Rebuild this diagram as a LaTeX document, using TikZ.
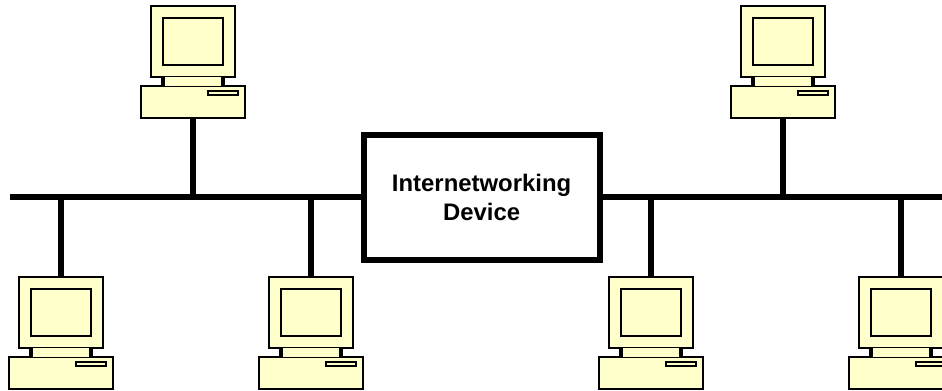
\documentclass[tikz,border=0pt]{standalone}
\usepackage{fontspec}
\setmainfont{Liberation Sans}
\usepackage{xcolor}
\usetikzlibrary{calc,positioning}
\definecolor{paleyellow}{rgb}{1.000000,1.000000,0.800000}
\tikzset{
  unitbox/.style={draw,fill=paleyellow,line width=1.2pt,inner sep=0pt,outer sep=0pt,minimum width=#1},
  wire/.style={line width=3.3pt},
  devicebox/.style={draw,fill=white,line width=3.4pt,inner sep=0pt,outer sep=0pt,minimum width=236*0.02cm,minimum height=125*0.02cm,align=center,font=\bfseries\fontsize{13.6}{16.7}\selectfont}
}
% One computer: monitor, screen, neck, case and drive slot
\newcommand{\drawcomputer}[3]{%
  \node [unitbox=84*0.02cm,minimum height=71*0.02cm] (mon#1) at (#2,#3) {};%
  \node [unitbox=60*0.02cm,minimum height=47*0.02cm] (scr#1) at (mon#1.center) {};%
  \node [unitbox=104*0.02cm,minimum height=32*0.02cm] (case#1) at ($(mon#1.center)+(0,60.5)$) {};%
  \node [unitbox=30*0.02cm,minimum height=4*0.02cm] (slot#1) at ($(mon#1.center)+(30,51.5)$) {};%
  \fill [paleyellow] ($(mon#1.south)+(-30,0)$) rectangle ($(case#1.north)+(30,0)$);%
  \draw [line width=1.8pt] ($(mon#1.south)+(-30,0)$) -- ($(case#1.north)+(-30,0)$);%
  \draw [line width=1.8pt] ($(mon#1.south)+(30,0)$) -- ($(case#1.north)+(30,0)$);%
}
\begin{document}
\begin{tikzpicture}[x=0.02cm,y=-0.02cm]
  \useasboundingbox (0,0) rectangle (942,390);
  \clip (0,0) rectangle (942,390);

  % Bus ends and the device between them
  \coordinate (busleft) at (10,197.2);
  \coordinate (busright) at (942,197.2);
  \node [devicebox] (device) at (481.6,197.2) {Internetworking\\Device};
  \draw [wire] (busleft) -- (device.west);
  \draw [wire] (device.east) -- (busright);

  % Computers above the bus
  \foreach \name/\posx in {a/193,d/783} {
    \drawcomputer{\name}{\posx}{41.5}
    \coordinate (tap\name) at (\posx,197.2);
    \draw [wire] (case\name.south) -- (tap\name);
  }

  % Computers below the bus
  \foreach \name/\posx in {b/61,c/311,e/651,f/901} {
    \drawcomputer{\name}{\posx}{312.5}
    \coordinate (tap\name) at (\posx,197.2);
    \draw [wire] (tap\name) -- (mon\name.north);
  }
\end{tikzpicture}
\end{document}
